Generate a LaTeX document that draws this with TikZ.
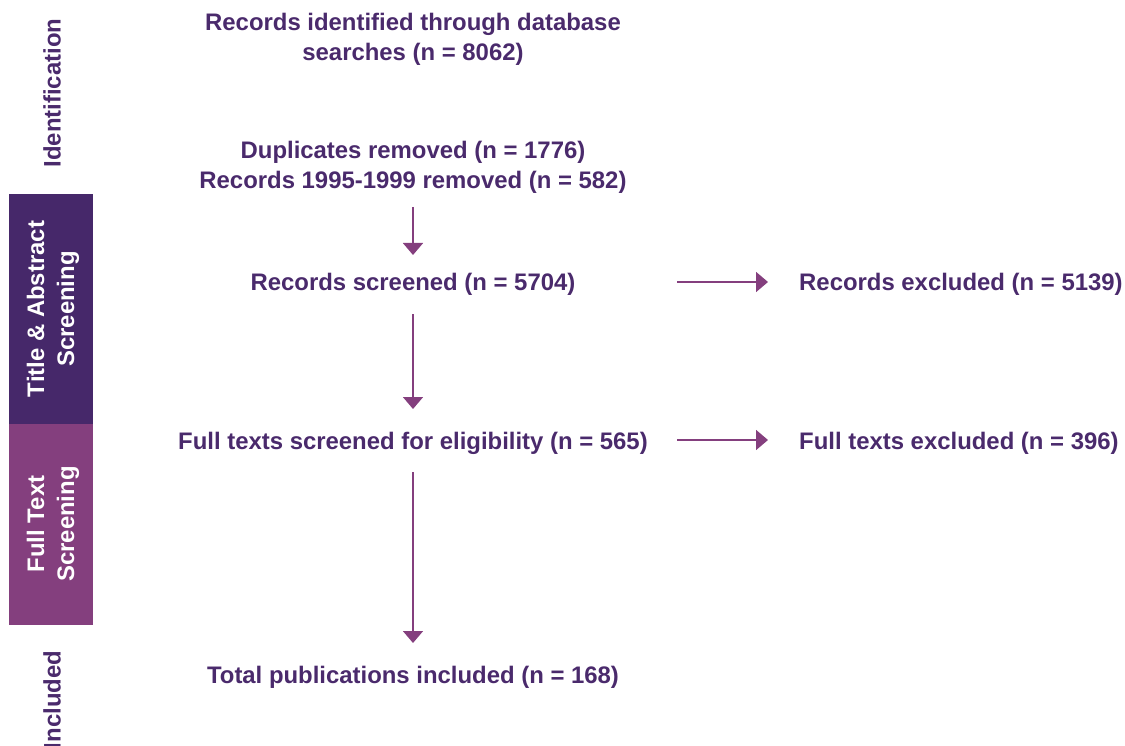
\documentclass[tikz,border=0pt]{standalone}
\usepackage{fontspec}
\setmainfont{Liberation Sans}
\usetikzlibrary{arrows.meta}
\definecolor{txtpurple}{HTML}{4A2A6C}
\definecolor{darkbar}{HTML}{46286A}
\definecolor{lightbar}{HTML}{843F7E}
\definecolor{arrowcol}{HTML}{843F7E}
\tikzset{
  lbl/.style={font=\fontsize{23.9}{30}\selectfont\bfseries, text=txtpurple, inner sep=0pt, align=center},
  sidelbl/.style={lbl, rotate=90},
  barlbl/.style={sidelbl, text=white},
  arr/.style={draw=arrowcol, line width=1.6pt, -{Triangle[length=12pt,width=20pt]}},
}
\begin{document}
\begin{tikzpicture}[x=1pt,y=-1pt]
\useasboundingbox (0,0) rectangle (1125,746);
% side bars
\fill[darkbar] (9,194) rectangle (93,424);
\fill[lightbar] (9,424) rectangle (93,625);
\node[sidelbl] (sid) at (52,93) {Identification};
\node[barlbl] (sta) at (53,309) {Title \& Abstract\\Screening};
\node[barlbl] (sft) at (53,524) {Full Text\\Screening};
\node[sidelbl] (sin) at (52,700) {Included};
% main column
\node[lbl] (ident) at (413,39) {Records identified through database\\searches (n = 8062)};
\node[lbl] (dup) at (413,167) {Duplicates removed (n = 1776)\\Records 1995-1999 removed (n = 582)};
\node[lbl] (scr) at (413,284) {Records screened (n = 5704)};
\node[lbl] (full) at (413,443) {Full texts screened for eligibility (n = 565)};
\node[lbl] (incl) at (413,677) {Total publications included (n = 168)};
% right column
\node[lbl, anchor=west] (exc1) at (799,284) {Records excluded (n = 5139)};
\node[lbl, anchor=west] (exc2) at (799,443) {Full texts excluded (n = 396)};
% arrows
\draw[arr, shorten <=40pt, shorten >=29pt] (dup.center) -- (scr.center);
\draw[arr, shorten <=30pt, shorten >=34pt] (scr.center) -- (full.center);
\draw[arr, shorten <=29pt, shorten >=34pt] (full.center) -- (incl.center);
\draw[arr, shorten <=264pt, shorten >=31pt, transform canvas={yshift=2pt}] (scr.center) -- (exc1.west);
\draw[arr, shorten <=264pt, shorten >=31pt, transform canvas={yshift=3pt}] (full.center) -- (exc2.west);
\end{tikzpicture}
\end{document}
